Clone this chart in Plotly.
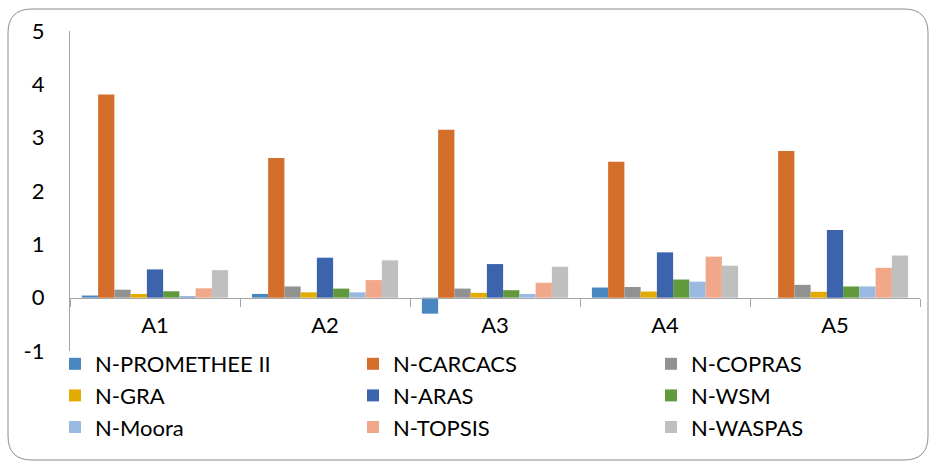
import plotly.graph_objects as go

# Alternatives and normalised scores per method
categories = ["A1", "A2", "A3", "A4", "A5"]

promethee = [0.04, 0.07, -0.30, 0.19, 0.0]
carcacs = [3.81, 2.62, 3.15, 2.55, 2.75]
copras = [0.15, 0.21, 0.17, 0.20, 0.24]
gra = [0.07, 0.10, 0.09, 0.115, 0.11]
aras = [0.53, 0.75, 0.63, 0.85, 1.27]
wsm = [0.12, 0.17, 0.14, 0.34, 0.21]
moora = [0.03, 0.10, 0.07, 0.30, 0.21]
topsis = [0.175, 0.33, 0.28, 0.77, 0.56]
waspas = [0.515, 0.70, 0.58, 0.60, 0.79]

y_tick_values = [-1, 0, 1, 2, 3, 4, 5]
y_tick_labels = ["-1", "0", "1", "2", "3", "4", "5"]

series_names = ["N-PROMETHEE II", "N-CARCACS", "N-COPRAS", "N-GRA", "N-ARAS",
                "N-WSM", "N-Moora", "N-TOPSIS", "N-WASPAS"]
series_values = [promethee, carcacs, copras, gra, aras, wsm, moora, topsis, waspas]
series_colors = ["#4A87C0", "#D46E2B", "#919191", "#E3AB00", "#3C64AD",
                 "#63993D", "#99B9E0", "#F1A78A", "#BFBFBF"]

FONT = "Lato"
W, H = 936, 468
ML, MR, MT, MB = 70, 16, 31, 117

# legend laid out in three columns, filled row by row
legend_ids = ["legend", "legend2", "legend3"]

fig = go.Figure()
for i, (name, vals, col) in enumerate(zip(series_names, series_values, series_colors)):
    fig.add_trace(go.Bar(x=categories, y=vals, name=name,
                         legend=legend_ids[i % 3], legendgroup=name,
                         marker=dict(color=col, line=dict(width=0))))

# rounded frame around the whole chart, expressed in paper coordinates
pw, ph = W - ML - MR, H - MT - MB
def px(x):
    return (x - ML) / pw
def py(y):
    return (H - MB - y) / ph
x0, x1, y0, y1, r = 8, 928, 9, 460, 24
path = (f"M {px(x0 + r)},{py(y0)} L {px(x1 - r)},{py(y0)} "
        f"Q {px(x1)},{py(y0)} {px(x1)},{py(y0 + r)} L {px(x1)},{py(y1 - r)} "
        f"Q {px(x1)},{py(y1)} {px(x1 - r)},{py(y1)} L {px(x0 + r)},{py(y1)} "
        f"Q {px(x0)},{py(y1)} {px(x0)},{py(y1 - r)} L {px(x0)},{py(y0 + r)} "
        f"Q {px(x0)},{py(y0)} {px(x0 + r)},{py(y0)} Z")

legend_style = dict(orientation="v", y=py(343), xanchor="left", yanchor="top",
                    font=dict(family=FONT, size=22, color="black"),
                    bgcolor="rgba(0,0,0,0)", tracegroupgap=0)

fig.update_layout(
    width=W, height=H,
    margin=dict(l=ML, r=MR, t=MT, b=MB, autoexpand=False),
    paper_bgcolor="white", plot_bgcolor="white",
    barmode="group", bargap=0.14, bargroupgap=0,
    font=dict(family=FONT, size=22, color="black"),
    shapes=[dict(type="path", xref="paper", yref="paper", path=path,
                 line=dict(color="#8C8C8C", width=1), layer="below")],
    legend=dict(x=px(55), **legend_style),
    legend2=dict(x=px(353), **legend_style),
    legend3=dict(x=px(651), **legend_style),
    xaxis=dict(anchor="free", position=py(297.5),
               showline=True, linecolor="#A6A6A6", linewidth=1.3,
               ticks="outside", tickson="boundaries", ticklen=8,
               tickcolor="#A6A6A6", tickwidth=1.3,
               showgrid=False, ticklabelstandoff=8,
               tickfont=dict(family=FONT, size=22, color="black")),
    yaxis=dict(range=[-1, 5], tickmode="array", tickvals=y_tick_values,
               ticktext=y_tick_labels, showgrid=False, zeroline=False,
               showline=True, linecolor="#A6A6A6", linewidth=1.3,
               ticks="", ticklabelstandoff=20,
               tickfont=dict(family=FONT, size=22, color="black")),
)

fig.write_html("out.html")
